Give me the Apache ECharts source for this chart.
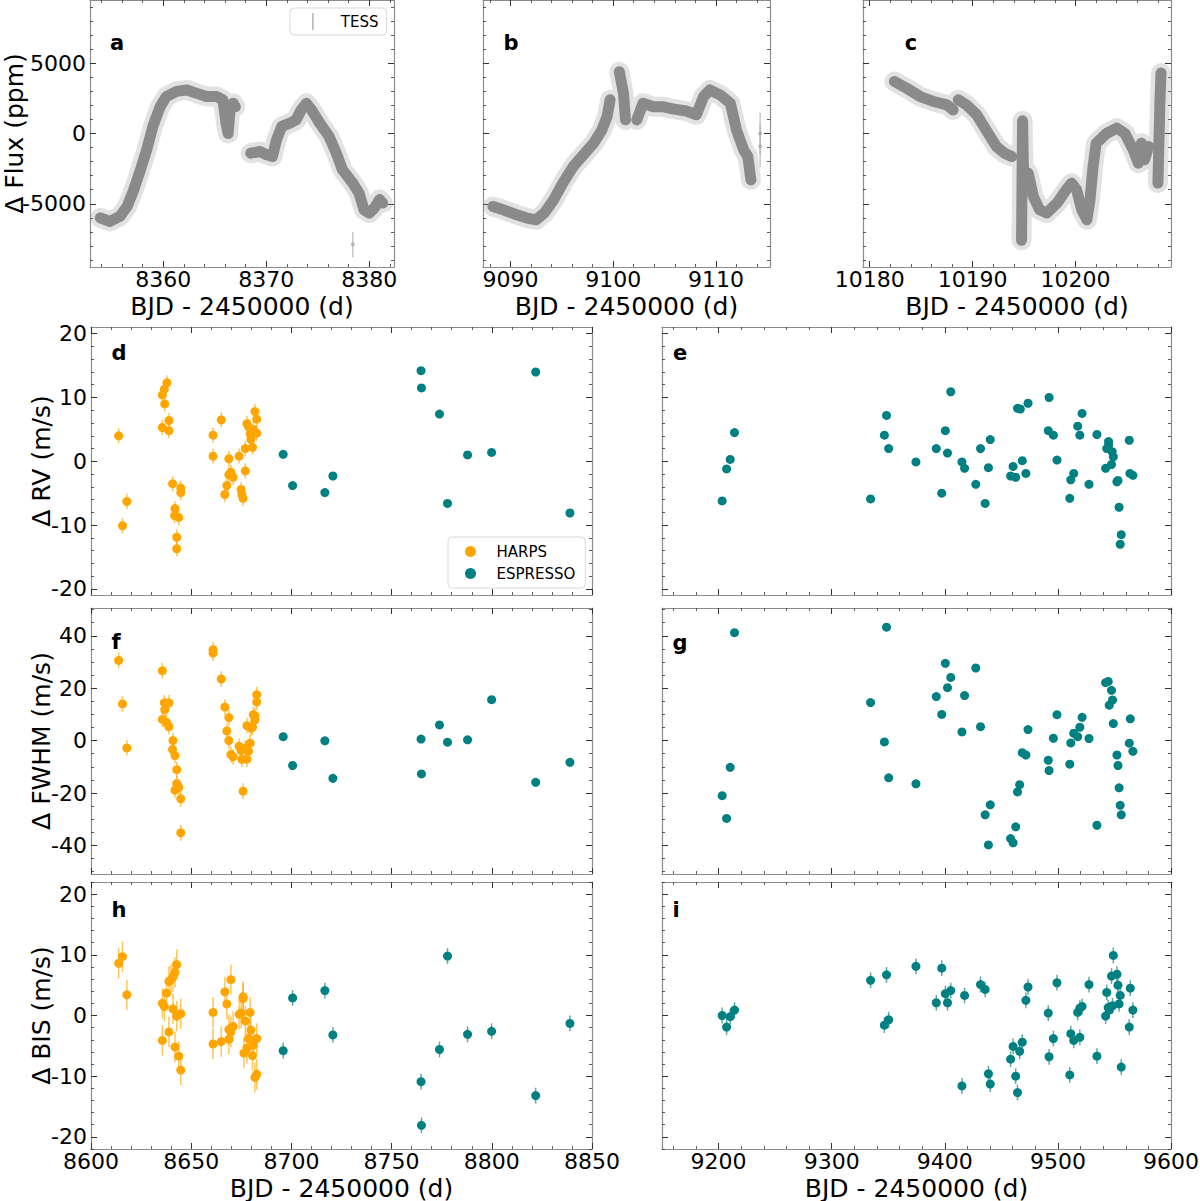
<!DOCTYPE html>
<html>
<head>
<meta charset="utf-8">
<script src="https://cdn.jsdelivr.net/npm/echarts@6/dist/echarts.min.js"></script>
<style>
html, body { margin: 0; padding: 0; background: #fff; }
#chart { width: 1200px; height: 1201px; }
</style>
</head>
<body>
<div id="chart"></div>
<script>
// ---- data ----
const tessA = [[8353.9,-6000],[8354.8,-6260],[8355.8,-5900],[8356.5,-5200],[8357.1,-4100],[8357.7,-2800],[8358.4,-1160],[8359.0,500],[8359.7,1900],[8360.3,2630],[8361.3,3000],[8362.3,3100],[8363.2,2870],[8364.2,2630],[8365.2,2630],[8365.8,2400],[8366.1,730],[8366.3,0],[8366.5,1680],[8366.8,2150],[8367.0,1900],[8367.5,null],[8368.5,-1400],[8369.4,-1280],[8370.0,-1500],[8370.6,-1640],[8371.0,-450],[8371.5,500],[8372.3,730],[8372.9,970],[8373.4,1680],[8373.9,2150],[8374.4,1680],[8375.2,730],[8376.1,-210],[8376.8,-1400],[8377.4,-2580],[8378.4,-3530],[8379.0,-4240],[8379.5,-5430],[8380.0,-5660],[8380.5,-5300],[8381.0,-4700],[8381.3,-4950]];
const tessB = [[9088.3,-5190],[9089.3,-5430],[9090.6,-5780],[9091.6,-6020],[9092.5,-6140],[9093.3,-5660],[9094.2,-4720],[9095.1,-3530],[9096.1,-2350],[9097.1,-1520],[9098.1,-690],[9098.9,260],[9099.4,1200],[9099.7,2400],[9100.1,null],[9100.6,4400],[9101.0,2870],[9101.2,970],[9101.7,null],[9102.3,970],[9102.9,2150],[9103.9,1900],[9104.9,1900],[9105.8,1750],[9107.1,1600],[9108.1,1330],[9108.8,2630],[9109.4,3100],[9110.4,2750],[9111.4,2150],[9112.0,260],[9112.7,-1160],[9113.1,-1640],[9113.4,-3300]];
const tessC = [[10182.4,3700],[10183.6,3220],[10184.9,2630],[10186.2,2280],[10187.5,2040],[10188.1,1680],[10188.3,null],[10188.6,2400],[10189.4,2040],[10190.4,1330],[10191.3,260],[10192.3,-920],[10193.1,-1400],[10193.8,-1640],[10194.3,null],[10194.75,-7600],[10194.85,900],[10194.95,-3000],[10195.2,null],[10195.4,-2820],[10195.9,-4480],[10196.5,-5430],[10197.2,-5660],[10198.2,-4950],[10199.1,-4000],[10199.6,-3530],[10200.1,-4000],[10200.6,-5430],[10201.1,-6140],[10201.4,-4720],[10201.7,-2350],[10202.0,-690],[10203.0,0],[10204.0,380],[10204.8,0],[10205.6,-1160],[10206.1,-2110],[10206.4,-690],[10206.7,-1870],[10207.1,-920],[10207.5,null],[10208.0,-3530],[10208.2,2400],[10208.3,4300]];
const tessOutA = [[8378.4,-7900]];
const tessOutB = [[9114.3,0],[9114.3,-900]];

const harpsRV = [[8613.8,4.0],[8615.7,-10.1],[8617.9,-6.3],[8635.6,10.4],[8636.6,11.3],[8637.9,12.3],[8636.8,9.0],[8635.6,5.3],[8638.9,6.4],[8638.9,4.8],[8640.7,-3.5],[8641.9,-7.4],[8641.7,-8.5],[8643.8,-8.8],[8642.8,-11.9],[8642.8,-13.7],[8644.8,-4.2],[8644.8,-4.9],[8660.9,4.1],[8660.9,0.8],[8665.0,6.5],[8666.8,-5.2],[8667.8,-3.8],[8668.8,0.4],[8668.8,-2.1],[8669.8,-1.7],[8670.9,-2.5],[8673.9,0.8],[8674.9,-4.4],[8675.3,-5.2],[8675.9,-5.8],[8677.0,2.0],[8677.0,-1.5],[8677.8,5.9],[8678.6,5.4],[8679.4,4.3],[8679.8,3.4],[8680.6,2.2],[8681.0,5.0],[8681.8,7.8],[8682.7,6.6],[8682.7,4.4]];
const espRV1 = [[8695.9,1.1],[8700.6,-3.8],[8716.7,-4.9],[8720.7,-2.3],[8764.7,14.2],[8764.9,11.5],[8773.9,7.4],[8777.9,-6.6],[8787.9,1.0],[8799.9,1.4],[8821.9,14.0],[8839.0,-8.1]];
const espRV2 = [[9203.2,-6.2],[9207.1,-1.2],[9210.3,0.3],[9214.1,4.5],[9334.4,-5.9],[9346.6,4.1],[9348.5,7.2],[9350.4,2.0],[9374.5,-0.1],[9392.5,2.0],[9397.3,-5.0],[9400.5,4.8],[9402.4,1.3],[9405.3,10.9],[9415.2,-0.1],[9417.5,-1.1],[9427.4,-3.6],[9431.6,2.0],[9435.7,-6.6],[9438.6,-1.0],[9440.2,3.4],[9458.2,-2.3],[9460.4,-0.8],[9462.7,-2.5],[9464.3,8.3],[9466.8,8.2],[9468.5,0.1],[9471.7,-1.9],[9473.6,9.1],[9492.2,10.0],[9491.5,4.8],[9496.0,4.1],[9499.2,0.2],[9510.5,-5.8],[9511.4,-2.9],[9514.0,-1.9],[9517.5,5.5],[9519.4,4.1],[9521.4,7.5],[9527.5,-3.6],[9534.5,4.2],[9542.2,-1.1],[9543.2,2.0],[9544.8,3.1],[9544.8,2.5],[9547.4,-0.5],[9548.0,1.5],[9549.0,0.7],[9552.2,-3.2],[9553.1,-3.0],[9554.1,-7.2],[9556.0,-11.5],[9555.1,-13.0],[9563.1,3.3],[9563.7,-1.9],[9566.3,-2.2]];

const harpsFWHM = [[8613.8,30.6],[8615.7,14.0],[8617.9,-2.8],[8635.6,26.7],[8636.6,14.4],[8636.8,11.8],[8638.9,14.4],[8635.6,8.1],[8637.7,6.9],[8638.9,5.3],[8640.9,0.0],[8640.7,-3.4],[8641.9,-5.7],[8642.8,-11.1],[8642.8,-16.4],[8643.8,-17.8],[8641.9,-18.9],[8644.8,-22.2],[8644.8,-35.2],[8660.9,34.7],[8660.9,33.4],[8665.0,23.5],[8666.8,12.8],[8668.8,8.8],[8667.8,3.7],[8668.8,0.0],[8669.8,-5.3],[8670.9,-6.2],[8673.9,-2.2],[8674.9,-3.8],[8675.9,-19.3],[8675.3,-7.2],[8677.0,-2.8],[8677.8,5.7],[8678.6,-4.1],[8677.8,-7.1],[8679.4,-1.0],[8679.8,4.8],[8680.6,5.1],[8681.0,9.9],[8681.8,9.5],[8681.8,7.9],[8682.7,14.7],[8682.7,17.5]];
const espFWHM1 = [[8695.9,1.5],[8700.6,-9.5],[8716.7,-0.1],[8720.7,-14.4],[8764.7,0.6],[8764.9,-12.7],[8773.9,6.0],[8777.9,-0.6],[8787.9,0.3],[8799.9,15.6],[8821.9,-15.9],[8839.0,-8.3]];
const espFWHM2 = [[9214.1,41.2],[9203.2,-21.0],[9207.1,-29.7],[9210.3,-10.2],[9334.4,14.5],[9348.5,43.3],[9346.6,-0.5],[9350.4,-14.2],[9374.5,-16.5],[9392.5,16.8],[9397.3,10.0],[9400.5,29.5],[9402.4,20.2],[9405.3,24.1],[9415.2,3.3],[9417.5,17.2],[9427.4,27.7],[9431.6,5.3],[9435.7,-28.3],[9438.6,-39.8],[9440.2,-24.5],[9458.2,-37.4],[9460.4,-39.0],[9462.7,-32.9],[9464.3,-19.6],[9466.2,-16.8],[9468.5,-4.6],[9471.7,-5.5],[9473.6,4.2],[9491.5,-7.5],[9492.2,-11.4],[9496.0,0.9],[9499.2,9.9],[9510.5,-9.0],[9511.4,-0.9],[9514.0,2.8],[9517.5,1.5],[9519.4,5.1],[9521.4,8.9],[9527.5,0.8],[9534.5,-32.3],[9542.2,22.1],[9544.5,22.6],[9547.4,19.2],[9548.3,15.5],[9545.4,13.5],[9549.0,6.5],[9552.2,-5.5],[9553.1,-9.5],[9554.1,-18.0],[9555.1,-24.7],[9556.0,-28.3],[9564.0,8.3],[9563.1,-1.0],[9566.3,-4.1]];

const harpsBIS = [[8613.8,8.6],[8615.7,9.7],[8617.9,3.4],[8635.6,2.0],[8636.6,1.5],[8637.7,3.7],[8638.9,5.6],[8639.9,5.9],[8640.9,6.4],[8641.9,7.1],[8642.8,8.4],[8640.9,1.1],[8635.6,-4.1],[8638.9,-2.7],[8641.9,-5.2],[8642.8,-0.1],[8643.8,-6.7],[8644.8,0.3],[8644.8,-9.0],[8660.9,0.5],[8660.9,-4.7],[8665.0,-4.3],[8666.8,3.9],[8667.8,1.9],[8669.8,5.9],[8668.8,-2.3],[8668.8,-3.9],[8669.8,-2.7],[8670.9,-1.8],[8673.9,0.2],[8674.9,0.4],[8675.9,3.1],[8675.9,2.8],[8676.3,-6.2],[8677.0,-0.9],[8677.8,-5.4],[8678.6,-3.8],[8679.4,0.5],[8679.8,-2.4],[8680.6,-6.6],[8681.0,-4.9],[8681.8,-10.2],[8682.7,-9.7],[8682.7,-3.8]];
const espBIS1 = [[8695.9,-5.8],[8700.6,2.9],[8716.7,4.1],[8720.7,-3.2],[8764.7,-10.9],[8764.9,-18.1],[8773.9,-5.6],[8777.9,9.8],[8787.9,-3.1],[8799.9,-2.6],[8821.9,-13.2],[8839.0,-1.3]];
const espBIS2 = [[9203.2,0.0],[9207.1,-1.9],[9210.3,-0.2],[9214.1,0.9],[9334.4,5.8],[9346.6,-1.6],[9348.5,6.7],[9350.4,-0.7],[9374.5,8.1],[9392.5,2.1],[9397.3,7.8],[9400.5,3.6],[9402.4,2.1],[9405.3,4.1],[9415.2,-11.6],[9417.5,3.3],[9431.6,5.1],[9435.7,4.3],[9438.6,-9.6],[9440.2,-11.3],[9458.2,-7.2],[9460.4,-5.1],[9462.7,-10.0],[9464.3,-12.7],[9466.2,-5.9],[9468.5,-4.4],[9471.7,2.5],[9473.6,4.7],[9491.5,0.4],[9492.2,-6.8],[9496.0,-3.8],[9499.2,5.4],[9510.5,-9.8],[9511.4,-3.0],[9514.0,-4.1],[9517.5,0.5],[9519.4,-3.6],[9519.4,1.2],[9521.4,1.5],[9527.5,5.1],[9534.5,-6.7],[9542.2,-0.1],[9543.2,3.8],[9544.5,1.3],[9545.4,0.9],[9547.4,6.5],[9548.3,1.6],[9549.0,9.9],[9552.2,6.8],[9553.1,5.0],[9554.1,1.9],[9555.1,3.3],[9556.0,-8.5],[9563.1,-1.9],[9564.0,4.5],[9566.3,0.9]];

// typical error bar half-lengths
const errHarps = { rv: 1.2, fwhm: 3.0, bis: 2.5 };
const errEsp = { rv: 0.6, fwhm: 1.5, bis: 1.3 };

// tick labels
const ticksA = [8360, 8370, 8380];
const ticksB = [9090, 9100, 9110];
const ticksC = [10180, 10190, 10200];
const ticksLeft = [8600, 8650, 8700, 8750, 8800, 8850];
const ticksRight = [9200, 9300, 9400, 9500, 9600];
const fluxTicks = [-5000, 0, 5000];
const rvTicks = [-20, -10, 0, 10, 20];
const fwhmTicks = [-40, -20, 0, 20, 40];
const bisTicks = [-20, -10, 0, 10, 20];

const FONT = 'DejaVu Sans';
const SPINE = '#8c8c8c';
const TICK = '#333';
const ORANGE = '#FFA500';
const TEAL = '#008080';
const XNAME = 'BJD - 2450000 (d)';

const chart = echarts.init(document.getElementById('chart'), null, { renderer: 'svg' });

// layout of the nine panels
const panels = [
  { tag: 'a', tx: 117, ty: 43, left: 90, top: 0, width: 304, height: 267, x: [8352.9, 8382.4], xt: ticksA, xm: 2, y: [-9500, 9500], yt: fluxTicks, ym: 1000, xLab: true, yLab: true, yName: 'Δ Flux (ppm)', yGap: 64, xGap: 27 },
  { tag: 'b', tx: 511, ty: 43, left: 483, top: 0, width: 287, height: 267, x: [9087.33, 9115.26], xt: ticksB, xm: 2, y: [-9500, 9500], yt: fluxTicks, ym: 1000, xLab: true, yLab: false, xGap: 27 },
  { tag: 'c', tx: 911, ty: 43, left: 863, top: 0, width: 308, height: 267, x: [10179.35, 10209.27], xt: ticksC, xm: 2, y: [-9500, 9500], yt: fluxTicks, ym: 1000, xLab: true, yLab: false, xGap: 27 },
  { tag: 'd', tx: 119, ty: 353, left: 91, top: 327, width: 501, height: 268, x: [8600, 8850], xt: ticksLeft, xm: 10, y: [-20.95, 21.05], yt: rvTicks, ym: 2, xLab: false, yLab: true, yName: 'Δ RV (m/s)', yGap: 38 },
  { tag: 'e', tx: 680, ty: 353, left: 662, top: 327, width: 509, height: 268, x: [9150, 9600], xt: ticksRight, xm: 20, y: [-20.95, 21.05], yt: rvTicks, ym: 2, xLab: false, yLab: false },
  { tag: 'f', tx: 116, ty: 642, left: 91, top: 608, width: 501, height: 266, x: [8600, 8850], xt: ticksLeft, xm: 10, y: [-50.9, 50.6], yt: fwhmTicks, ym: 5, xLab: false, yLab: true, yName: 'Δ FWHM (m/s)', yGap: 38 },
  { tag: 'g', tx: 680, ty: 643, left: 662, top: 608, width: 509, height: 266, x: [9150, 9600], xt: ticksRight, xm: 20, y: [-50.9, 50.6], yt: fwhmTicks, ym: 5, xLab: false, yLab: false },
  { tag: 'h', tx: 119, ty: 910, left: 91, top: 882, width: 501, height: 267, x: [8600, 8850], xt: ticksLeft, xm: 10, y: [-22, 22], yt: bisTicks, ym: 2, xLab: true, yLab: true, yName: 'Δ BIS (m/s)', yGap: 38, xGap: 27 },
  { tag: 'i', tx: 676, ty: 910, left: 662, top: 882, width: 509, height: 267, x: [9150, 9600], xt: ticksRight, xm: 20, y: [-22, 22], yt: bisTicks, ym: 2, xLab: true, yLab: false, xGap: 27 }
];

function minorTicks(lo, hi, step, majors) {
  const out = [];
  for (let k = Math.ceil(lo / step); k * step <= hi; k++) {
    const v = k * step;
    if (majors.indexOf(v) < 0) out.push(v);
  }
  return out;
}

const grids = [], xAxes = [], yAxes = [], series = [], graphics = [];

function axisSet(dim, gi, p, pos, major, withLabel, name) {
  const range = dim === 'x' ? p.x : p.y;
  const ticks = dim === 'x' ? p.xt : p.yt;
  const step = dim === 'x' ? p.xm : p.ym;
  const base = {
    type: 'value', gridIndex: gi, min: range[0], max: range[1], position: pos,
    splitLine: { show: false }, minorTick: { show: false }
  };
  if (major) {
    Object.assign(base, {
      axisLine: { show: true, onZero: false, lineStyle: { color: SPINE, width: 1.2 } },
      axisTick: { show: true, inside: true, length: 6, customValues: ticks, lineStyle: { color: TICK, width: 1 } },
      axisLabel: {
        show: withLabel, customValues: ticks, margin: dim === 'x' ? 2 : 4, fontSize: 22, lineHeight: 20, color: '#000', fontFamily: FONT,
        formatter: function (v) { return String(v); }
      }
    });
    if (name) {
      Object.assign(base, {
        name: name, nameLocation: 'middle', nameMoveOverlap: false,
        nameGap: dim === 'x' ? p.xGap : p.yGap,
        nameTextStyle: { fontSize: 25, lineHeight: 24, color: '#000', fontFamily: FONT }
      });
    }
  } else {
    Object.assign(base, {
      axisLine: { show: false, onZero: false },
      axisTick: { show: true, inside: true, length: 3, customValues: minorTicks(range[0], range[1], step, ticks), lineStyle: { color: TICK, width: 0.8 } },
      axisLabel: { show: false }
    });
  }
  (dim === 'x' ? xAxes : yAxes).push(base);
}

function errBars(data, err, color, xi, yi) {
  return {
    type: 'custom', xAxisIndex: xi, yAxisIndex: yi, data: data, silent: true, clip: true,
    renderItem: function (params, api) {
      const x = api.value(0), y = api.value(1);
      const a = api.coord([x, y - err]);
      const b = api.coord([x, y + err]);
      return { type: 'line', shape: { x1: a[0], y1: a[1], x2: b[0], y2: b[1] }, style: { stroke: color, lineWidth: 1.5, opacity: 0.65 } };
    }
  };
}

function dots(name, data, color, xi, yi) {
  return { type: 'scatter', name: name, xAxisIndex: xi, yAxisIndex: yi, data: data, symbolSize: 9, itemStyle: { color: color, opacity: 1 }, clip: true };
}

function tessLines(data, xi, yi) {
  return [
    { type: 'line', xAxisIndex: xi, yAxisIndex: yi, data: data, showSymbol: false, connectNulls: false, silent: true,
      lineStyle: { color: 'rgba(150,150,150,0.28)', width: 20, cap: 'round', join: 'round' } },
    { type: 'line', name: 'TESS', xAxisIndex: xi, yAxisIndex: yi, data: data, showSymbol: false, connectNulls: false, silent: true,
      itemStyle: { color: '#888' }, lineStyle: { color: '#8a8a8a', width: 11, cap: 'round', join: 'round' } }
  ];
}

panels.forEach(function (p, gi) {
  grids.push({ left: p.left, top: p.top, width: p.width, height: p.height, show: false, outerBoundsMode: 'none', containLabel: false });
  axisSet('x', gi, p, 'bottom', true, p.xLab, p.xLab ? XNAME : null);
  axisSet('x', gi, p, 'bottom', false);
  axisSet('x', gi, p, 'top', true, false);
  axisSet('x', gi, p, 'top', false);
  axisSet('y', gi, p, 'left', true, p.yLab, p.yName || null);
  axisSet('y', gi, p, 'left', false);
  axisSet('y', gi, p, 'right', true, false);
  axisSet('y', gi, p, 'right', false);
  graphics.push({
    type: 'text', x: p.tx, y: p.ty, silent: true,
    style: { text: p.tag, font: 'bold 21px "DejaVu Sans"', fill: '#000', textAlign: 'center', textVerticalAlign: 'middle', verticalAlign: 'middle' }
  });
});

const ax = function (gi) { return gi * 4; };

// top row: TESS light curves
series.push.apply(series, tessLines(tessA, ax(0), ax(0)));
series.push.apply(series, tessLines(tessB, ax(1), ax(1)));
series.push.apply(series, tessLines(tessC, ax(2), ax(2)));
series.push({ type: 'scatter', xAxisIndex: ax(0), yAxisIndex: ax(0), data: tessOutA, symbolSize: 4, itemStyle: { color: '#aaa' }, silent: true });
series.push({ type: 'scatter', xAxisIndex: ax(1), yAxisIndex: ax(1), data: tessOutB, symbolSize: 4, itemStyle: { color: '#aaa' }, silent: true });
series.push(errBars(tessOutA, 900, '#aaa', ax(0), ax(0)));
series.push(errBars(tessOutB, 1500, '#aaa', ax(1), ax(1)));

// RV / FWHM / BIS panels
const rows = [
  { l: 3, r: 4, h: harpsRV, e1: espRV1, e2: espRV2, k: 'rv' },
  { l: 5, r: 6, h: harpsFWHM, e1: espFWHM1, e2: espFWHM2, k: 'fwhm' },
  { l: 7, r: 8, h: harpsBIS, e1: espBIS1, e2: espBIS2, k: 'bis' }
];
rows.forEach(function (row) {
  series.push(errBars(row.h, errHarps[row.k], ORANGE, ax(row.l), ax(row.l)));
  series.push(errBars(row.e1, errEsp[row.k], TEAL, ax(row.l), ax(row.l)));
  series.push(errBars(row.e2, errEsp[row.k], TEAL, ax(row.r), ax(row.r)));
  series.push(dots('HARPS', row.h, ORANGE, ax(row.l), ax(row.l)));
  series.push(dots('ESPRESSO', row.e1, TEAL, ax(row.l), ax(row.l)));
  series.push(dots('ESPRESSO', row.e2, TEAL, ax(row.r), ax(row.r)));
});

const option = {
  animation: false,
  backgroundColor: '#fff',
  textStyle: { fontFamily: FONT },
  grid: grids,
  xAxis: xAxes,
  yAxis: yAxes,
  legend: [
    {
      data: ['TESS'], left: 290, top: 8, orient: 'vertical', padding: [5, 8, 5, 22],
      backgroundColor: '#fff', borderColor: '#d9d9d9', borderWidth: 1, borderRadius: 4,
      itemWidth: 36, itemHeight: 17, icon: 'path://M9,0L11,0L11,20L9,20Z',
      itemStyle: { color: '#bbb' },
      textStyle: { fontSize: 15, color: '#000', fontFamily: FONT, padding: [0, 0, 0, 5] }, selectedMode: false
    },
    {
      data: ['HARPS', 'ESPRESSO'], left: 448, top: 537, orient: 'vertical', padding: [7, 10, 7, 17], itemGap: 7,
      backgroundColor: '#fff', borderColor: '#d9d9d9', borderWidth: 1, borderRadius: 4,
      itemWidth: 36, itemHeight: 11, icon: 'circle',
      textStyle: { fontSize: 15, color: '#000', fontFamily: FONT, padding: [0, 0, 0, 3] }, selectedMode: false
    }
  ],
  graphic: graphics,
  series: series
};

option && chart.setOption(option);
</script>
</body>
</html>
